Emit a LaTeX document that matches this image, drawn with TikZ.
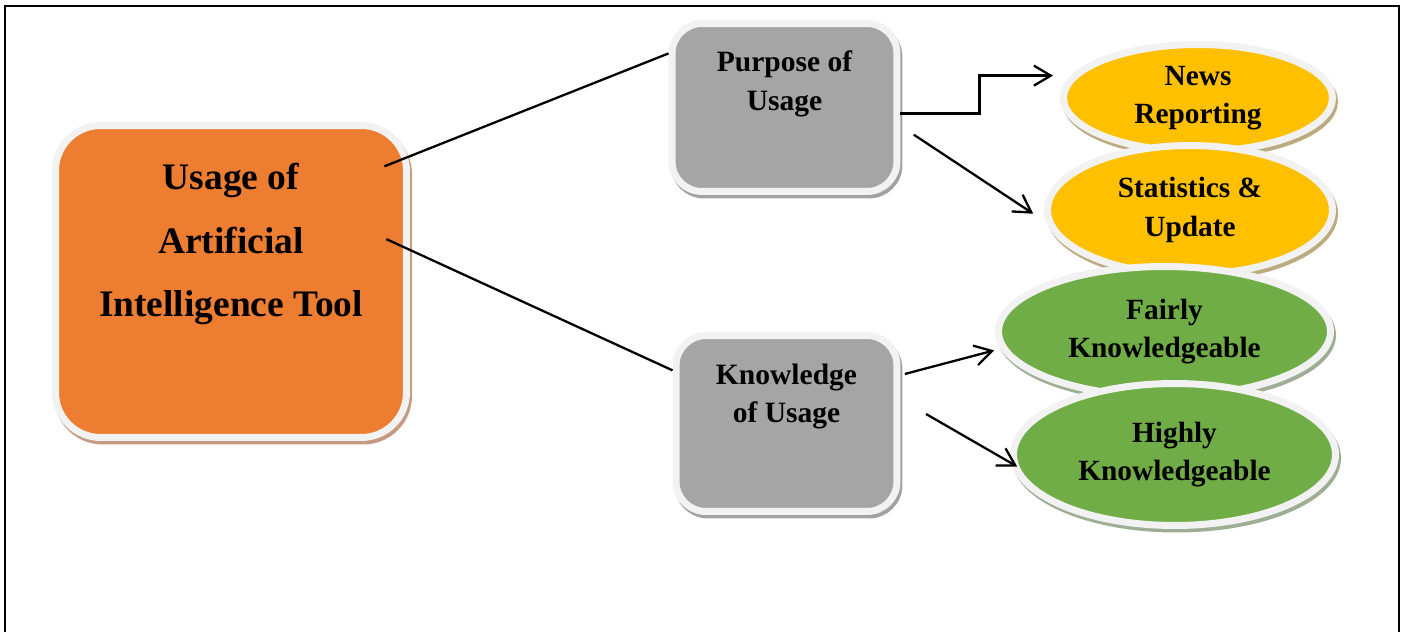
\documentclass[tikz,border=0pt]{standalone}
\usepackage{fontspec}
\setmainfont{Liberation Serif}
\usetikzlibrary{shapes.geometric,shadows,arrows.meta}

\definecolor{aiorange}{HTML}{ED7D31}
\definecolor{aigray}{HTML}{A5A5A5}
\definecolor{aiyellow}{HTML}{FFC000}
\definecolor{aigreen}{HTML}{70AD47}
\definecolor{rimgray}{HTML}{F2F2F2}
\definecolor{orangeshade}{HTML}{C49A80}
\definecolor{grayshade}{HTML}{A2A2A2}
\definecolor{yellowshade}{HTML}{BBAB7E}
\definecolor{greenshade}{HTML}{9EAE94}

\begin{document}
\begin{tikzpicture}[x=0.02cm,y=-0.02cm,
        rim/.style={draw=rimgray,line width=0.14cm},
        shade/.style={drop shadow={shadow xshift=0.04cm,shadow yshift=-0.07cm,fill=#1,draw=#1,line width=0.14cm,opacity=1}},
        bigbox/.style={rim,rounded corners=0.9cm,fill=aiorange,minimum width=7.02cm,minimum height=6.24cm,shade=orangeshade},
        graybox/.style={rim,rounded corners=0.6cm,fill=aigray,shade=grayshade},
        yellowell/.style={rim,ellipse,inner sep=0pt,fill=aiyellow,align=center,font=\fontsize{16.7}{22}\selectfont\bfseries,shade=yellowshade},
        greenell/.style={rim,ellipse,inner sep=0pt,fill=aigreen,align=center,font=\fontsize{16.7}{22}\selectfont\bfseries,shade=greenshade},
        bigtxt/.style={align=center,font=\fontsize{21.3}{36.3}\selectfont\bfseries},
        smalltxt/.style={align=center,font=\fontsize{16.8}{22}\selectfont\bfseries},
        link/.style={draw,line width=1.3pt},
        arr/.style={link,-{Straight Barb[length=0.34cm,width=0.4cm]}}]
    \useasboundingbox (0,0) rectangle (1406,632);
    \draw[line width=1pt] (5,632) -- (5,6) -- (1399,6) -- (1399,632);

    \node[bigbox] (main) at (231,281.5) {};
    \node[bigtxt] (maintxt) at (231,244) {Usage of\\Artificial\\Intelligence Tool};
    \node[graybox,minimum width=4.5cm,minimum height=3.36cm] (pur) at (784.5,107.5) {};
    \node[smalltxt] (purtxt) at (784.5,84) {Purpose of\\Usage};
    \node[graybox,minimum width=4.42cm,minimum height=3.52cm] (know) at (786.5,423.5) {};
    \node[smalltxt] (knowtxt) at (786.5,396.5) {Knowledge\\of Usage};

    \node[yellowell,minimum width=5.38cm,minimum height=2.14cm] (news) at (1198,98) {News\\Reporting};
    \node[yellowell,minimum width=5.7cm,minimum height=2.58cm] (stat) at (1190,210) {Statistics \&\\Update};
    \node[greenell,minimum width=6.64cm,minimum height=2.6cm] (fair) at (1164.5,331.5) {Fairly\\Knowledgeable};
    \node[greenell,minimum width=6.44cm,minimum height=2.84cm] (high) at (1174.5,454.5) {Highly\\Knowledgeable};

    \draw[link,shorten <=-0.55cm] (main.35) -- (pur.155);
    \draw[link,shorten <=-0.52cm] (main.10) -- (know.155);
    \draw[arr] (pur.-3) -- ++(79,0) |- ([xshift=-0.36cm]news.170);
    \draw[arr,shorten <=0.32cm,shorten >=0.32cm] (pur.-9) -- (stat.185);
    \draw[arr,shorten <=0.09cm,shorten >=0.13cm] (know.23) -- (fair.186);
    \draw[arr,shorten <=0.59cm,shorten >=-0.14cm] (know.12) -- (high.183);
\end{tikzpicture}
\end{document}
